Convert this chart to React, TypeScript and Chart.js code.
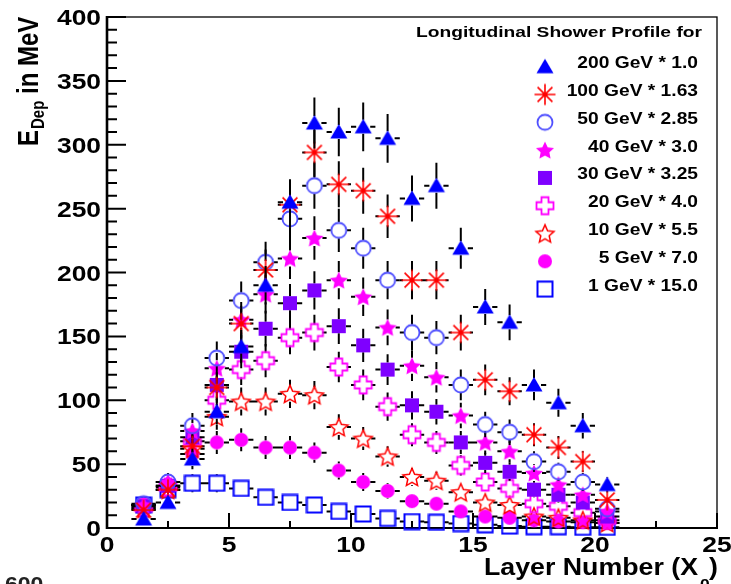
import React, { useEffect, useRef } from "react";
import { Chart, registerables } from "chart.js";

Chart.register(...registerables);

// ---------- data ----------
const layers = [1.5, 2.5, 3.5, 4.5, 5.5, 6.5, 7.5, 8.5, 9.5, 10.5, 11.5, 12.5, 13.5, 14.5, 15.5, 16.5, 17.5, 18.5, 19.5, 20.5];

const e200 = [7, 20, 54, 91, 142, 190, 255, 317, 310, 314, 305, 258, 268, 219, 173, 161, 112, 98, 80, 34];
const e100 = [14, 30, 64, 110, 160, 202, 253, 294, 269, 264, 244, 194, 194, 153, 116, 107, 73, 63, 52, 22];
const e50 = [19, 36, 80, 133, 178, 208, 242, 268, 233, 219, 194, 153, 149, 112, 81, 75, 52, 44, 36, 15];
const e40 = [18, 36, 76, 125, 163, 183, 211, 227, 194, 181, 157, 127, 118, 88, 67, 60, 43, 34, 26, 13];
const e30 = [17, 33, 71, 112, 138, 156, 176, 186, 158, 143, 124, 96, 91, 67, 51, 44, 30, 26, 20, 9];
const e20 = [16, 32, 68, 100, 124, 131, 149, 153, 126, 112, 95, 73, 67, 49, 36, 31, 19, 17, 12, 6];
const e10 = [15, 30, 62, 87, 99, 99, 105, 104, 79, 70, 56, 40, 37, 28, 20, 18, 9, 8, 6, 4];
const e5 = [18, 33, 58, 67, 69, 63, 63, 59, 45, 36, 29, 21, 19, 13, 9, 8, 6, 5, 4.5, 4];
const e1 = [18, 30, 35, 35, 31, 24, 20, 18, 13, 11, 7.5, 5, 4.5, 3.5, 2.5, 1.5, 1, 1, 0.5, 0.5];

const err200 = [3, 5, 8, 10, 13, 15, 18, 20, 19, 19, 19, 18, 18, 16, 14, 14, 12, 11, 10, 6];
const err100 = [4, 6, 9, 12, 14, 16, 18, 19, 18, 18, 17, 15, 15, 14, 12, 11, 9, 9, 8, 5];
const err50 = [5, 7, 10, 13, 15, 16, 17, 18, 17, 16, 15, 14, 13, 12, 10, 10, 8, 7, 7, 4];
const err40 = [5, 7, 10, 12, 14, 15, 16, 17, 15, 15, 14, 12, 12, 10, 9, 9, 7, 6, 6, 4];
const err30 = [5, 6, 9, 12, 13, 14, 15, 15, 14, 13, 12, 11, 10, 9, 8, 7, 6, 6, 5, 3];
const err20 = [4, 6, 9, 11, 12, 13, 13, 14, 12, 12, 11, 9, 9, 8, 7, 6, 5, 5, 4, 3];
const err10 = [4, 6, 9, 10, 11, 11, 11, 11, 10, 9, 8, 7, 7, 6, 5, 5, 3, 3, 3, 2];
const err5 = [5, 6, 8, 9, 9, 9, 9, 8, 7, 7, 6, 5, 5, 4, 3, 3, 3, 2, 2, 2];
const err1 = [5, 6, 7, 7, 6, 5, 5, 5, 4, 4, 3, 2, 2, 2, 2, 1, 1, 1, 1, 1];

const seriesNames = [
  "200 GeV * 1.0",
  "100 GeV * 1.63",
  "50 GeV * 2.85",
  "40 GeV * 3.0",
  "30 GeV * 3.25",
  "20 GeV * 4.0",
  "10 GeV * 5.5",
  "5 GeV * 7.0",
  "1 GeV * 15.0",
];
const seriesValues = [e200, e100, e50, e40, e30, e20, e10, e5, e1];
const seriesErrors = [err200, err100, err50, err40, err30, err20, err10, err5, err1];

const xTickValues = [0, 5, 10, 15, 20, 25];
const yTickValues = [0, 50, 100, 150, 200, 250, 300, 350, 400];
const legendTitle = "Longitudinal Shower Profile for";
const xTitleMain = "Layer Number (X";
const xTitleSub = "0";
const xTitleEnd = ")";
const yTitleMain = "E";
const yTitleSub = "Dep";
const yTitleEnd = " in MeV";
const cornerText = "600";

const FONT = '"Liberation Sans", Arial, Helvetica, sans-serif';

// ---------- markers ----------
function makeMarker(size: number, draw: (c: CanvasRenderingContext2D) => void) {
  const cv = document.createElement("canvas");
  cv.width = size;
  cv.height = size;
  const c = cv.getContext("2d") as CanvasRenderingContext2D;
  c.translate(size / 2, size / 2);
  draw(c);
  return cv;
}

function starPath(c: CanvasRenderingContext2D, outer: number, inner: number) {
  c.beginPath();
  for (let i = 0; i < 10; i++) {
    const r = i % 2 === 0 ? outer : inner;
    const a = -Math.PI / 2 + (i * Math.PI) / 5;
    const px = r * Math.cos(a);
    const py = r * Math.sin(a);
    if (i === 0) c.moveTo(px, py);
    else c.lineTo(px, py);
  }
  c.closePath();
}

function crossPath(c: CanvasRenderingContext2D, L: number, a: number) {
  const pts = [
    [-a, -L], [a, -L], [a, -a], [L, -a], [L, a], [a, a],
    [a, L], [-a, L], [-a, a], [-L, a], [-L, -a], [-a, -a],
  ];
  c.beginPath();
  pts.forEach((p, i) => (i === 0 ? c.moveTo(p[0], p[1]) : c.lineTo(p[0], p[1])));
  c.closePath();
}

function buildMarkers() {
  const blue = "#0000ff";
  const red = "#ff0000";
  const mag = "#ff00ff";
  const purple = "#7f00ff";
  const lblue = "#4d4dff";
  const tri = makeMarker(22, (c) => {
    c.fillStyle = blue;
    c.beginPath();
    c.moveTo(0, -8);
    c.lineTo(8.5, 6.5);
    c.lineTo(-8.5, 6.5);
    c.closePath();
    c.fill();
  });
  const ast = makeMarker(24, (c) => {
    c.strokeStyle = red;
    c.lineWidth = 1.6;
    c.beginPath();
    const r = 10.5;
    for (let k = 0; k < 4; k++) {
      const an = (k * Math.PI) / 4;
      c.moveTo(-r * Math.cos(an), -r * Math.sin(an));
      c.lineTo(r * Math.cos(an), r * Math.sin(an));
    }
    c.stroke();
    c.fillStyle = red;
    c.beginPath();
    c.arc(0, 0, 2.5, 0, Math.PI * 2);
    c.fill();
  });
  const ocirc = makeMarker(20, (c) => {
    c.strokeStyle = lblue;
    c.lineWidth = 1.8;
    c.beginPath();
    c.arc(0, 0, 7.5, 0, Math.PI * 2);
    c.stroke();
  });
  const fstar = makeMarker(22, (c) => {
    c.fillStyle = mag;
    c.translate(0, 0.9);
    starPath(c, 9.5, 4.6);
    c.fill();
  });
  const fsq = makeMarker(16, (c) => {
    c.fillStyle = purple;
    c.fillRect(-7, -7, 14, 14);
  });
  const ocross = makeMarker(22, (c) => {
    c.strokeStyle = mag;
    c.lineWidth = 1.8;
    crossPath(c, 8.5, 3.5);
    c.stroke();
  });
  const ostar = makeMarker(22, (c) => {
    c.strokeStyle = red;
    c.lineWidth = 1.5;
    c.translate(0, 0.9);
    starPath(c, 9.5, 4.4);
    c.stroke();
  });
  const fcirc = makeMarker(18, (c) => {
    c.fillStyle = mag;
    c.beginPath();
    c.arc(0, 0, 7, 0, Math.PI * 2);
    c.fill();
  });
  const osq = makeMarker(18, (c) => {
    c.strokeStyle = blue;
    c.lineWidth = 2;
    c.strokeRect(-7.5, -7.5, 15, 15);
  });
  return [tri, ast, ocirc, fstar, fsq, ocross, ostar, fcirc, osq];
}

const markerGaps = [7, 9, 8, 8, 7, 8, 8, 7, 8];

function stretchText(
  ctx: CanvasRenderingContext2D,
  text: string,
  x: number,
  y: number,
  font: string,
  align: CanvasTextAlign,
  sx: number,
  color = "#000"
) {
  ctx.save();
  ctx.font = font;
  ctx.fillStyle = color;
  ctx.textAlign = align;
  ctx.textBaseline = "alphabetic";
  ctx.translate(x, y);
  ctx.scale(sx, 1);
  ctx.fillText(text, 0, 0);
  ctx.restore();
}

const errorBarPlugin = {
  id: "errorBars",
  beforeDatasetDraw(chart: any, args: any) {
    const ds = chart.data.datasets[args.index];
    const xs = chart.scales.x;
    const ys = chart.scales.y;
    const ctx: CanvasRenderingContext2D = chart.ctx;
    const g = ds.gap;
    ctx.save();
    ctx.strokeStyle = "#000";
    ctx.lineWidth = 2;
    ctx.beginPath();
    ds.data.forEach((p: any, i: number) => {
      const e = ds.errors[i];
      const px = xs.getPixelForValue(p.x);
      const py = ys.getPixelForValue(p.y);
      const x0 = xs.getPixelForValue(p.x - 0.5);
      const x1 = xs.getPixelForValue(p.x + 0.5);
      const yTop = ys.getPixelForValue(p.y + e);
      const yBot = ys.getPixelForValue(p.y - e);
      if (px - g > x0) {
        ctx.moveTo(x0, py);
        ctx.lineTo(px - g, py);
        ctx.moveTo(px + g, py);
        ctx.lineTo(x1, py);
      }
      if (py - g > yTop) {
        ctx.moveTo(px, yTop);
        ctx.lineTo(px, py - g);
      }
      if (yBot > py + g) {
        ctx.moveTo(px, py + g);
        ctx.lineTo(px, yBot);
      }
    });
    ctx.stroke();
    ctx.restore();
  },
};

const axesPlugin = {
  id: "rootAxes",
  beforeDatasetsDraw(chart: any) {
    const ctx: CanvasRenderingContext2D = chart.ctx;
    const { left, right, top, bottom } = chart.chartArea;
    const xs = chart.scales.x;
    const ys = chart.scales.y;
    ctx.save();
    ctx.strokeStyle = "#000";
    ctx.lineWidth = 1.3;
    ctx.strokeRect(left, top, right - left, bottom - top);
    ctx.lineWidth = 2.6;
    ctx.beginPath();
    ctx.moveTo(left, top - 1);
    ctx.lineTo(left, bottom + 1);
    ctx.stroke();
    ctx.lineWidth = 2.2;
    ctx.beginPath();
    ctx.moveTo(left - 1, bottom);
    ctx.lineTo(right + 1, bottom);
    ctx.stroke();
    ctx.lineWidth = 2;
    ctx.beginPath();
    for (let i = 0; i <= 40; i++) {
      const v = i * 10;
      const y = ys.getPixelForValue(v);
      const len = v % 50 === 0 ? 19 : 10;
      ctx.moveTo(left, y);
      ctx.lineTo(left + len, y);
    }
    for (let i = 0; i <= 10; i++) {
      const v = i * 2.5;
      const x = xs.getPixelForValue(v);
      const len = i % 2 === 0 ? 15 : 7;
      ctx.moveTo(x, bottom);
      ctx.lineTo(x, bottom - len);
    }
    ctx.stroke();
    ctx.restore();
  },
};

const textPlugin = {
  id: "rootText",
  afterDraw(chart: any) {
    const ctx: CanvasRenderingContext2D = chart.ctx;
    const xs = chart.scales.x;
    const ys = chart.scales.y;
    const tickFont = `bold 22px ${FONT}`;
    xTickValues.forEach((v) => {
      stretchText(ctx, String(v), xs.getPixelForValue(v), 552, tickFont, "center", 1.2);
    });
    yTickValues.forEach((v) => {
      stretchText(ctx, String(v), 101, ys.getPixelForValue(v) + 8, tickFont, "right", 1.2);
    });

    // x title
    ctx.save();
    ctx.font = `bold 23px ${FONT}`;
    const wMain = ctx.measureText(xTitleMain).width;
    ctx.restore();
    const sxT = 214 / wMain;
    stretchText(ctx, xTitleMain, 484, 575, `bold 23px ${FONT}`, "left", sxT);
    stretchText(ctx, xTitleSub, 700, 589, `bold 15px ${FONT}`, "left", sxT);
    stretchText(ctx, xTitleEnd, 709, 575, `bold 23px ${FONT}`, "left", sxT);

    // y title (rotated)
    ctx.save();
    ctx.fillStyle = "#000";
    ctx.textBaseline = "alphabetic";
    ctx.translate(38, 146);
    ctx.rotate(-Math.PI / 2);
    ctx.scale(1, 1.25);
    ctx.font = `bold 24px ${FONT}`;
    ctx.fillText(yTitleMain, 0, 0);
    const wE = ctx.measureText(yTitleMain).width;
    ctx.font = `bold 15px ${FONT}`;
    ctx.fillText(yTitleSub, wE + 1, 5);
    const wD = ctx.measureText(yTitleSub).width;
    ctx.font = `bold 24px ${FONT}`;
    ctx.fillText(yTitleEnd, wE + 1 + wD, 0);
    ctx.restore();

    // legend
    ctx.save();
    ctx.font = `bold 15px ${FONT}`;
    const wTitle = ctx.measureText(legendTitle).width;
    ctx.restore();
    stretchText(ctx, legendTitle, 416, 36.7, `bold 15px ${FONT}`, "left", 286 / wTitle);
    chart.data.datasets.forEach((ds: any, i: number) => {
      stretchText(ctx, seriesNames[i], 698, 67.8 + i * 27.9, `bold 17px ${FONT}`, "right", 1.13);
      const img = ds.pointStyle as HTMLCanvasElement;
      const cy = 66.7 + i * 27.8;
      ctx.drawImage(img, 545 - img.width / 2, cy - img.height / 2);
    });

    // corner text
    stretchText(ctx, cornerText, 5, 591, `bold 20px ${FONT}`, "left", 1.15, "#222");
  },
};

export default function App() {
  const ref = useRef<HTMLCanvasElement | null>(null);
  useEffect(() => {
    if (!ref.current) return;
    const markers = buildMarkers();
    const datasets = seriesValues.map((vals, si) => ({
      label: seriesNames[si],
      data: layers.map((x, i) => ({ x, y: vals[i] })),
      errors: seriesErrors[si],
      gap: markerGaps[si],
      pointStyle: markers[si],
      pointRadius: 7,
      pointHoverRadius: 7,
      showLine: false,
      clip: false,
    }));
    const chart = new Chart(ref.current, {
      type: "scatter",
      data: { datasets: datasets as any },
      options: {
        responsive: false,
        animation: false,
        devicePixelRatio: 1,
        events: [],
        layout: { padding: { top: 17, right: 14, left: 0, bottom: 0 } },
        plugins: { legend: { display: false }, tooltip: { enabled: false } },
        scales: {
          x: {
            type: "linear",
            min: 0,
            max: 25,
            ticks: { display: false, stepSize: 5 },
            grid: { display: false },
            border: { display: false },
            afterFit: (s: any) => {
              s.height = 56;
            },
          },
          y: {
            type: "linear",
            min: 0,
            max: 400,
            ticks: { display: false, stepSize: 50 },
            grid: { display: false },
            border: { display: false },
            afterFit: (s: any) => {
              s.width = 107;
            },
          },
        },
      } as any,
      plugins: [axesPlugin, errorBarPlugin, textPlugin],
    });
    return () => chart.destroy();
  }, []);
  return (
    <div style={{ position: "absolute", left: 0, top: 0, width: 731, height: 584, background: "#fff" }}>
      <canvas ref={ref} width={731} height={584} style={{ display: "block" }} />
    </div>
  );
}
